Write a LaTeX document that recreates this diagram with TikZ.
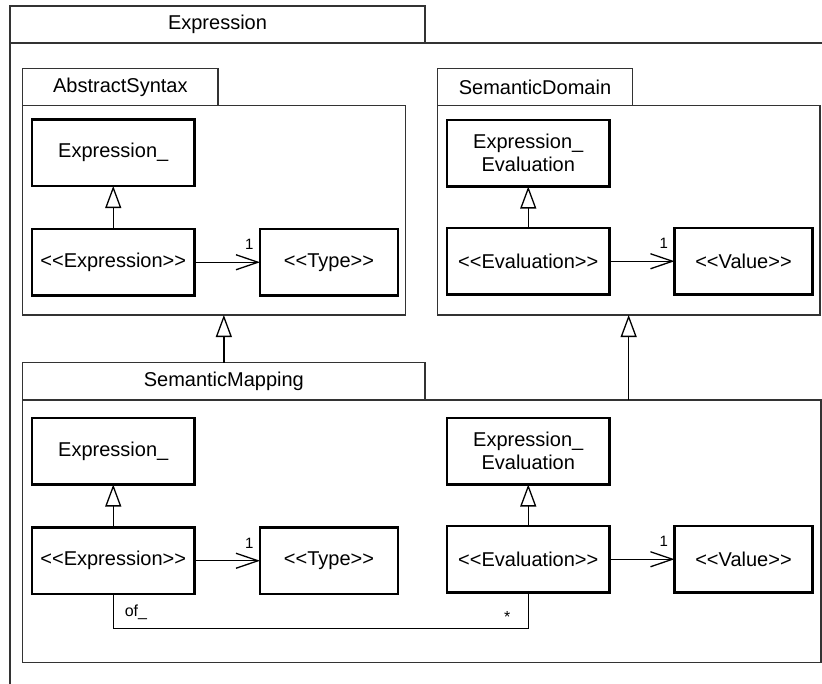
\documentclass[tikz,border=0pt]{standalone}
\usepackage{fontspec}
\setmainfont{Liberation Sans}
\usepackage{tikz}
\usetikzlibrary{arrows.meta,positioning}
\newcommand\umlst[1]{<\kern0pt<#1>\kern0pt>}

\begin{document}
\begin{tikzpicture}[x=1pt,y=-1pt,line width=1.3pt,
    pkg/.style={draw=black!80,line width=1.2pt,anchor=north west,outer sep=0pt,inner sep=0pt,
                font=\fontsize{20}{23}\selectfont},
    cls/.style={draw,line width=2.2pt,anchor=north west,outer sep=0pt,inner sep=0pt,
                minimum width=162.5pt,minimum height=66.5pt,align=center,
                font=\fontsize{20}{23}\selectfont},
    gen/.style={-{Triangle[open,length=22pt,width=16pt]}},
    assoc/.style={-{Straight Barb[length=22pt,width=15pt]}},
    role/.style={inner sep=0pt,font=\fontsize{16}{19}\selectfont},
    mult/.style={role,font=\fontsize{15}{18}\selectfont,pos=1,anchor=south east,xshift=-6pt,yshift=11.7pt}]
    \useasboundingbox (0,0) rectangle (822,683);
    \clip (0,0) rectangle (822,683);
    % packages
    \node[pkg,minimum width=415pt,minimum height=37pt] (ExprTab) at (10,6) {Expression};
    \node[pkg,minimum width=900pt,minimum height=700pt] (ExprBody) at (10,43) {};
    \node[pkg,minimum width=195.3pt,minimum height=37.2pt] (ASTab) at (22.7,68.3) {AbstractSyntax};
    \node[pkg,minimum width=383pt,minimum height=209.5pt] (ASBody) at (ASTab.south west) {};
    \node[pkg,minimum width=195.4pt,minimum height=37.2pt] (SDTab) at (437.3,68.3) {SemanticDomain};
    \node[pkg,minimum width=382.7pt,minimum height=209.5pt] (SDBody) at (SDTab.south west) {};
    \node[pkg,minimum width=402.3pt,minimum height=37.3pt] (SMTab) at (22.7,362.7) {SemanticMapping};
    \node[pkg,minimum width=798.3pt,minimum height=262.3pt] (SMBody) at (SMTab.south west) {};

    % classes of AbstractSyntax
    \node[cls] (A1) at (32,119.5) {Expression\_};
    \node[cls] (A2) [below=43pt of A1] {\umlst{Expression}};
    \node[cls,minimum width=138pt] (A3) [right=65.5pt of A2] {\umlst{Type}};
    % classes of SemanticDomain
    \node[cls] (D1) at (447,120) {Expression\_\\Evaluation};
    \node[cls] (D2) [below=41.5pt of D1] {\umlst{Evaluation}};
    \node[cls,minimum width=138pt] (D3) [right=65pt of D2] {\umlst{Value}};
    % classes of SemanticMapping
    \node[cls] (M1) at (32,418) {Expression\_};
    \node[cls] (M2) [below=43pt of M1] {\umlst{Expression}};
    \node[cls,minimum width=138pt] (M3) [right=65.5pt of M2] {\umlst{Type}};
    \node[cls] (M4) at (447,418) {Expression\_\\Evaluation};
    \node[cls] (M5) [below=41.5pt of M4] {\umlst{Evaluation}};
    \node[cls,minimum width=138pt] (M6) [right=65pt of M5] {\umlst{Value}};

    % generalizations
    \path[gen]
    (A2) edge (A1)
    (D2) edge (D1)
    (M2) edge (M1)
    (M5) edge (M4);
    \draw[gen] (SMTab.north) -- (SMTab.north |- ASBody.south);
    \draw[gen] (SDBody.south |- SMBody.north) -- (SDBody.south);
    % associations
    \path[assoc]
    (A2) edge node[mult] {1} (A3)
    (D2) edge node[mult] {1} (D3)
    (M2) edge node[mult] {1} (M3)
    (M5) edge node[mult] {1} (M6);
    \draw (M2.south) -- ++(0,34.5) -| (M5.south);
    \node[role,anchor=base west] (ofl) at ([xshift=10.9pt,yshift=-22pt]M2.south) {of\_};
    \node[role,anchor=base] (star) at ([xshift=-21pt,yshift=-29.9pt]M5.south) {*};
\end{tikzpicture}
\end{document}
